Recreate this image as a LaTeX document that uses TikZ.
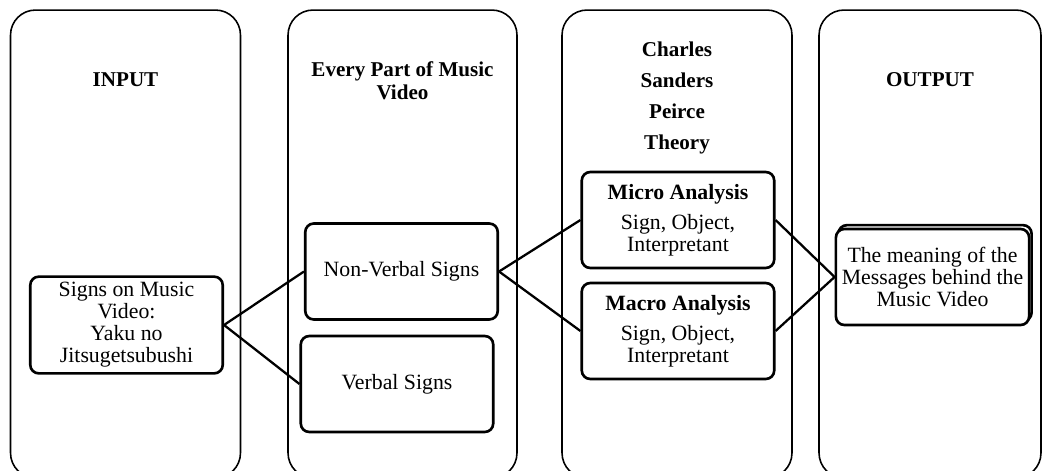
\documentclass[tikz,border=0pt]{standalone}
\usepackage{fontspec}
\setmainfont{Liberation Serif}
\usetikzlibrary{positioning}
\tikzset{
    colbox/.style = {rectangle, rounded corners=0.5cm, draw=black, line width=0.9pt, minimum width=4.6cm, minimum height=9.36cm},
    mybox/.style = {rectangle, rounded corners=0.17cm, draw=black, line width=1.5pt, fill=white, align=center, minimum width=3.85cm, minimum height=1.92cm, font=\fontsize{12.4}{12.5}\selectfont},
    myboxs/.style = {mybox, preaction={draw, line width=1.5pt, transform canvas={xshift=1.4pt, yshift=2.2pt}}}, % shadowed
    myhead/.style = {align=center, font=\fontsize{12}{13}\selectfont\bfseries},
    edgen/.style = {line width=1.3pt}
}

\begin{document}
\begin{tikzpicture}[x=0.02cm, y=-0.02cm]
\path[use as bounding box, clip] (0,0) rectangle (1043,470);
\node[colbox] at (125.5,244) (col1) {};
\node[colbox, minimum width=4.58cm] at (402.5,244) (col2) {};
\node[colbox] at (677,244) (col3) {};
\node[colbox, minimum width=4.44cm] at (930,244) (col4) {};
%
\node[myhead] at (125.5,80) (hin) {INPUT};
\node[myhead] at (402.5,81) (hpart) {Every Part of Music\\Video};
\node[myhead, font=\fontsize{12}{17.6}\selectfont\bfseries] at (677,98) (hpeirce) {Charles\\Sanders\\Peirce\\Theory};
\node[myhead] at (930,80) (hout) {OUTPUT};
%
\node[mybox] at (126.5,325) (sig) {Signs on Music\\Video:\\Yaku no\\Jitsugetsubushi};
\node[mybox] at (401.5,271.5) (nonverb) {Non-Verbal Signs};
\node[mybox] at (397,384) (verb) {Verbal Signs};
\node[mybox] at (678,220) (micro) {\textbf{Micro Analysis}\\[4.5pt]Sign, Object,\\Interpretant};
\node[mybox] at (678,331) (macro) {\textbf{Macro Analysis}\\[4.5pt]Sign, Object,\\Interpretant};
\node[myboxs] at (932.5,277) (meaning) {The meaning of the\\Messages behind the\\Music Video};
%
\draw[edgen] (sig.east) -- (nonverb.west);
\draw[edgen] (sig.east) -- (verb.west);
\draw[edgen] (nonverb.east) -- (micro.west);
\draw[edgen] (nonverb.east) -- (macro.west);
\draw[edgen] (micro.east) -- (meaning.west);
\draw[edgen] (macro.east) -- (meaning.west);
\end{tikzpicture}
\end{document}
